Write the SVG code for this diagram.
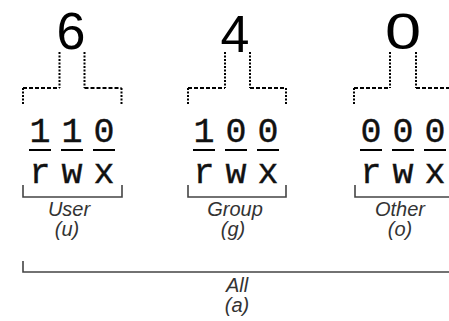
<svg xmlns="http://www.w3.org/2000/svg" width="449" height="321" viewBox="0 0 449 321">
<style>
.big{font-family:"Liberation Sans","DejaVu Sans",sans-serif;font-size:52px;fill:#000;text-anchor:middle}
.bit{font-family:"Liberation Mono",monospace;font-size:35px;fill:#111;stroke:#111;stroke-width:0.4;text-anchor:middle}
.lab{font-family:"Liberation Sans","DejaVu Sans",sans-serif;font-style:italic;font-size:20px;fill:#333;text-anchor:middle}
.dv{fill:none;stroke:#000;stroke-width:2;stroke-dasharray:2 1.5}
.dh{fill:none;stroke:#000;stroke-width:2;stroke-dasharray:4 2}
.ul{stroke:#000;stroke-width:2}
.br{fill:none;stroke:#444;stroke-width:1.6}
</style>
<rect width="449" height="321" fill="#fff"/>
<g id="connectors">
  <path class="dv" d="M59.5,52V88M84.5,52V88M23,88V105M121.5,88V105"/>
  <path class="dh" d="M23,88H59.5M84.5,88H121.5"/>
  <path class="dv" d="M225,52V88M250,52V88M188,88V105M286,88V105"/>
  <path class="dh" d="M188,88H225M250,88H286"/>
  <path class="dv" d="M390,52V88M416,52V88M354,88V105"/>
  <path class="dh" d="M354,88H390M416,88H449"/>
  <path class="br" d="M23,185V197H122V185"/>
  <path class="br" d="M188,185V197H286V185"/>
  <path class="br" d="M355,185V197H449"/>
  <path class="br" d="M23,261V272H449"/>
</g>
<g id="user">
  <text class="big" x="71" y="49">6</text>
  <text class="bit" x="40" y="142">1</text>
  <text class="bit" x="72" y="142">1</text>
  <text class="bit" x="104" y="142">0</text>
  <path class="ul" d="M29,150H51M61,150H83M93,150H115"/>
  <text class="bit" x="40" y="183">r</text>
  <text class="bit" x="72" y="183">w</text>
  <text class="bit" x="104" y="183">x</text>
  <text class="lab" x="69" y="216">User</text>
  <text class="lab" x="67" y="236">(u)</text>
</g>
<g id="group">
  <text class="big" x="235" y="52">4</text>
  <text class="bit" x="204" y="142">1</text>
  <text class="bit" x="236" y="142">0</text>
  <text class="bit" x="268" y="142">0</text>
  <path class="ul" d="M193,150H215M225,150H247M257,150H279"/>
  <text class="bit" x="204" y="183">r</text>
  <text class="bit" x="236" y="183">w</text>
  <text class="bit" x="268" y="183">x</text>
  <text class="lab" x="235" y="216">Group</text>
  <text class="lab" x="233" y="236">(g)</text>
</g>
<g id="other">
  <text class="big" x="403" y="49" transform="translate(403 49) scale(1.25 0.95) translate(-403 -49)">0</text>
  <text class="bit" x="371" y="142">0</text>
  <text class="bit" x="403" y="142">0</text>
  <text class="bit" x="435" y="142">0</text>
  <path class="ul" d="M360,150H382M392,150H414M424,150H446"/>
  <text class="bit" x="371" y="183">r</text>
  <text class="bit" x="403" y="183">w</text>
  <text class="bit" x="435" y="183">x</text>
  <text class="lab" x="400" y="216">Other</text>
  <text class="lab" x="400" y="236">(o)</text>
</g>
<g id="all">
  <text class="lab" x="237" y="292">All</text>
  <text class="lab" x="237" y="312">(a)</text>
</g>
</svg>
